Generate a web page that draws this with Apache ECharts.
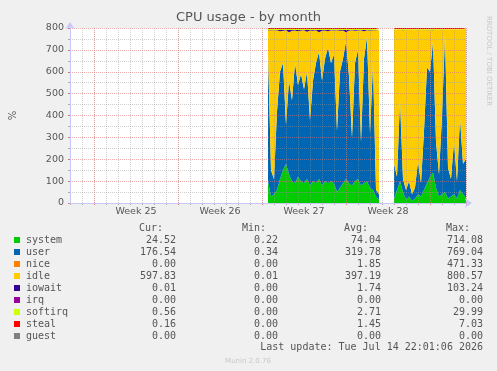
<!DOCTYPE html>
<html>
<head>
<meta charset="utf-8">
<script src="https://cdn.jsdelivr.net/npm/echarts@6/dist/echarts.min.js"></script>
<style>
html, body { margin: 0; padding: 0; background: #f0f0f0; }
#main { width: 497px; height: 371px; }
</style>
</head>
<body>
<div id="main"></div>
<script>
// samples are 6 hours apart (3px); the data window starts 16.833 days after the left edge
var gapSamples = 4;
var weekLabels = ['Week 25', 'Week 26', 'Week 27', 'Week 28'];

// first block of samples
var system1 = [100,30,40,60,110,150,180,130,100,90,120,100,90,110,80,100,90,110,80,100,90,100,90,50,70,90,110,90,80,100,110,80,90,100,70,60,30,15];
var user1 = [590,120,70,360,490,490,180,430,370,550,420,490,430,490,300,460,550,580,480,560,620,540,590,280,530,570,630,490,220,540,590,200,570,660,250,580,30,25];
var idle1 = [100,640,680,370,185,148,430,221,317,149,245,199,270,183,409,228,150,91,228,129,75,150,109,460,187,129,41,209,490,148,89,510,125,30,469,150,730,750];
var iowait1 = [1,1,1,1,6,3,1,10,4,2,6,2,1,8,2,3,1,10,3,2,6,1,2,1,4,2,10,2,1,3,2,1,6,1,2,1,1,1];
var softirq1 = [4,4,4,4,4,4,4,4,4,4,4,4,4,4,4,4,4,4,4,4,4,4,4,4,4,4,4,4,4,4,4,4,4,4,4,4,4,4];
var steal1 = [5,5,5,5,5,5,5,5,5,5,5,5,5,5,5,5,5,5,5,5,5,5,5,5,5,5,5,5,5,5,5,5,5,5,5,5,5,5];

// second block of samples
var system2 = [20,60,100,50,15,30,10,20,40,30,60,90,120,140,70,30,40,50,20,30,40,20,60,40,24.52];
var user2 = [160,60,370,60,45,70,30,50,150,60,270,530,480,600,210,100,360,720,140,80,240,80,330,140,176.54];
var idle2 = [613,674,324,679,734,694,754,723,604,704,464,168,194,49,514,664,394,24,634,684,514,694,404,614,597.83];
var iowait2 = [0,0,0,1,0,0,0,0,0,0,0,1,0,1,0,0,0,0,0,0,0,0,0,0,0.01];
var softirq2 = [2,1,1,5,1,1,1,2,1,1,1,6,1,5,1,1,1,1,1,1,1,1,1,1,0.56];
var steal2 = [5,5,5,5,5,5,5,5,5,5,5,5,5,5,5,5,5,5,5,5,5,5,5,5,0.16];

// legend table
var legendNames = ['system', 'user', 'nice', 'idle', 'iowait', 'irq', 'softirq', 'steal', 'guest'];
var legendColors = ['#00cc00', '#0066b3', '#ff8000', '#ffcc00', '#330099', '#990099', '#ccff00', '#ff0000', '#808080'];
var curVals = [24.52, 176.54, 0, 597.83, 0.01, 0, 0.56, 0.16, 0];
var minVals = [0.22, 0.34, 0, 0.01, 0, 0, 0, 0, 0];
var avgVals = [74.04, 319.78, 1.85, 397.19, 1.74, 0, 2.71, 1.45, 0];
var maxVals = [714.08, 769.04, 471.33, 800.57, 103.24, 0, 29.99, 7.03, 0];

function joined(a1, a2) {
    var gap = [];
    for (var i = 0; i < gapSamples; i++) gap.push(null);
    return a1.concat(gap, a2);
}

var nSamples = system1.length + gapSamples + system2.length;
var sampleCats = [];
for (var c = 0; c < nSamples; c++) sampleCats.push('s' + c);

function area(name, color, a1, a2) {
    return {
        name: name,
        type: 'line',
        stack: 'cpu',
        xAxisIndex: 4,
        yAxisIndex: 4,
        symbol: 'none',
        lineStyle: { width: 0 },
        itemStyle: { color: color },
        areaStyle: { color: color, opacity: 1 },
        data: joined(a1, a2),
        z: 2
    };
}

var mono = '"DejaVu Sans Mono", monospace';
var sans = '"DejaVu Sans", sans-serif';
var textColor = '#555';

function txt(s, x, y, align, extra) {
    var st = {
        text: s, x: x, y: y,
        fill: textColor,
        fontSize: 10, fontFamily: mono,
        align: align, textAlign: align,
        verticalAlign: 'middle', textVerticalAlign: 'middle'
    };
    for (var k in extra) st[k] = extra[k];
    return { type: 'text', silent: true, style: st };
}

var elements = [];
elements.push(txt('Cur:', 163, 228, 'right'));
elements.push(txt('Min:', 266, 228, 'right'));
elements.push(txt('Avg:', 368, 228, 'right'));
elements.push(txt('Max:', 470, 228, 'right'));
for (var r = 0; r < legendNames.length; r++) {
    var ry = 240 + r * 12;
    elements.push({ type: 'rect', silent: true, shape: { x: 14, y: ry - 3, width: 6, height: 6 }, style: { fill: legendColors[r] } });
    elements.push(txt(legendNames[r], 26, ry, 'left'));
    elements.push(txt(curVals[r].toFixed(2), 176, ry, 'right'));
    elements.push(txt(minVals[r].toFixed(2), 278, ry, 'right'));
    elements.push(txt(avgVals[r].toFixed(2), 381, ry, 'right'));
    elements.push(txt(maxVals[r].toFixed(2), 483, ry, 'right'));
}
elements.push(txt('Last update: Tue Jul 14 22:01:06 2026', 483, 347, 'right'));
elements.push(txt('Munin 2.0.76', 248, 361, 'center', { fontFamily: sans, fontSize: 7, fill: '#c8c8c8' }));
elements.push({
    type: 'text', silent: true, x: 489, y: 16, rotation: -Math.PI / 2,
    style: { text: 'RRDTOOL / TOBI OETIKER', fontFamily: sans, fontSize: 7, fill: '#c8c8c8',
        align: 'left', textAlign: 'left', verticalAlign: 'middle', textVerticalAlign: 'middle' }
});

var majorLine = { show: true, lineStyle: { color: 'rgba(225,110,110,0.55)', width: 1, type: [1, 1] } };
var minorLine = { show: true, lineStyle: { color: 'rgba(150,150,150,0.45)', width: 1, type: [1, 1] } };
var axisBlue = '#c8c8f8';

var chart = echarts.init(document.getElementById('main'));
chart.setOption({
    backgroundColor: '#f0f0f0',
    animation: false,
    title: {
        text: 'CPU usage - by month',
        left: 'center', top: 11, padding: 0,
        textStyle: { fontFamily: sans, fontSize: 13, fontWeight: 'normal', color: textColor }
    },
    grid: [
        { left: 66, top: 28, width: 400, height: 175, show: true, backgroundColor: '#fff', borderWidth: 0 },
        { left: 70, top: 28, width: 396, height: 175 },
        { left: 94, top: 28, width: 372, height: 175 },
        { left: 94, top: 28, width: 336, height: 175 },
        { left: 268, top: 28, width: 198, height: 175 }
    ],
    xAxis: [
        {
            gridIndex: 0, type: 'value', min: 0, max: 1, z: 4,
            axisLine: { show: true, symbol: ['none', 'arrow'], symbolSize: [7, 7], symbolOffset: [0, 6],
                lineStyle: { color: axisBlue, width: 1 } },
            axisTick: { show: false }, axisLabel: { show: false }, splitLine: { show: false }
        },
        {
            gridIndex: 1, type: 'value', min: 0, max: 33, interval: 1, z: 3,
            axisLine: { show: false },
            axisTick: { show: true, length: 2, lineStyle: { color: '#aaa' } },
            axisLabel: { show: false },
            splitLine: minorLine
        },
        {
            gridIndex: 2, type: 'value', min: 0, max: 31, interval: 7, z: 3,
            axisLine: { show: false },
            axisTick: { show: true, length: 2, lineStyle: { color: '#e07070' } },
            axisLabel: { show: false },
            splitLine: majorLine
        },
        {
            gridIndex: 3, type: 'category', data: weekLabels, boundaryGap: true,
            axisLine: { show: false }, axisTick: { show: false }, splitLine: { show: false },
            axisLabel: { interval: 0, margin: 4, fontFamily: sans, fontSize: 9.5, color: textColor }
        },
        {
            gridIndex: 4, type: 'category', data: sampleCats, boundaryGap: false, show: false
        }
    ],
    yAxis: [
        {
            gridIndex: 0, type: 'value', min: 0, max: 800, interval: 100, z: 3,
            name: '%', nameLocation: 'middle', nameGap: 52, nameRotate: 90,
            nameTextStyle: { fontFamily: sans, fontSize: 10, color: textColor },
            axisLine: { show: true, symbol: ['none', 'arrow'], symbolSize: [7, 7], symbolOffset: [0, 6],
                lineStyle: { color: axisBlue, width: 1 } },
            axisTick: { show: true, length: 2, lineStyle: { color: '#e07070' } },
            minorTick: { show: true, splitNumber: 2, length: 2, lineStyle: { color: '#aaa' } },
            axisLabel: { margin: 6, fontFamily: sans, fontSize: 9.5, color: textColor },
            splitLine: majorLine,
            minorSplitLine: minorLine
        },
        { gridIndex: 1, type: 'value', min: 0, max: 1, show: false },
        { gridIndex: 2, type: 'value', min: 0, max: 1, show: false },
        { gridIndex: 3, type: 'value', min: 0, max: 1, show: false },
        { gridIndex: 4, type: 'value', min: 0, max: 800, show: false }
    ],
    graphic: { elements: elements },
    series: [
        area('system', legendColors[0], system1, system2),
        area('user', legendColors[1], user1, user2),
        area('idle', legendColors[3], idle1, idle2),
        area('iowait', legendColors[4], iowait1, iowait2),
        area('softirq', legendColors[6], softirq1, softirq2),
        area('steal', legendColors[7], steal1, steal2)
    ]
});
</script>
</body>
</html>
